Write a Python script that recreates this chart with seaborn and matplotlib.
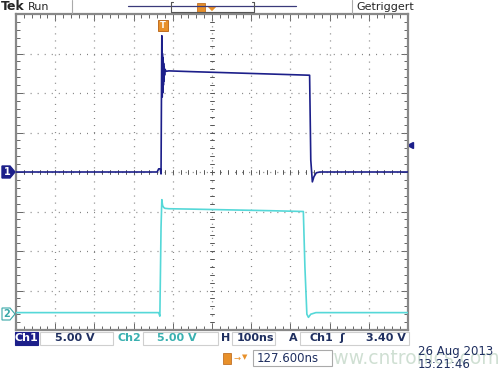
import numpy as np
import pandas as pd
import matplotlib
matplotlib.use("Agg")
import matplotlib.pyplot as plt
import seaborn as sns
from matplotlib.patches import Rectangle, Polygon

# waveforms, read in divisions (x: 0..10, y: -4..4)
ch1_t = [0.0, 3.60, 3.64, 3.68, 3.70, 3.71, 3.72, 3.73, 3.735, 3.74, 3.745, 3.75, 3.755, 3.76, 3.765, 3.77, 3.78, 3.79, 3.80, 3.83, 3.90, 4.5, 5.5, 6.5, 7.49, 7.52, 7.56, 7.60, 7.66, 7.75, 8.5, 10.0]
ch1_v = [0.0, 0.0, 0.08, 0.08, -0.05, 1.8, 3.45, 1.9, 3.0, 2.0, 2.9, 2.1, 2.8, 2.2, 2.75, 2.3, 2.65, 2.45, 2.6, 2.55, 2.56, 2.54, 2.51, 2.48, 2.45, 0.3, -0.25, -0.12, -0.02, 0.0, 0.0, 0.0]
ch2_t = [0.0, 3.64, 3.67, 3.70, 3.72, 3.74, 3.77, 3.80, 3.90, 4.5, 5.5, 6.5, 7.33, 7.37, 7.42, 7.46, 7.52, 7.65, 8.5, 10.0]
ch2_v = [-3.56, -3.56, -3.65, -1.4, -0.7, -0.85, -0.9, -0.92, -0.93, -0.94, -0.96, -0.98, -1.0, -2.4, -3.6, -3.68, -3.6, -3.56, -3.56, -3.56]

ch1_label = ["Ch1", "5.00 V"]
ch2_label = ["Ch2", "5.00 V"]
timebase = "100ns"
trig = ["A", "Ch1", "3.40 V"]
trig_level = 0.68
offset_label = "127.600ns"
date_label = ["26 Aug 2013", "13:21:46"]

NAVY = "#1c1f8a"
CYAN = "#55d8d8"
ORANGE = "#e8902a"
TXT = "#1f2f60"

sns.set_style("white")
plt.rcParams["font.family"] = ["DejaVu Sans"]

fig = plt.figure(figsize=(5, 3.75), dpi=100)
W, H = 500, 375

def fx(x):
    return x / W

def fy(y):
    return 1 - y / H

ax = fig.add_axes([fx(16), fy(330), fx(408) - fx(16), fy(14) - fy(330)])

df = pd.concat([
    pd.DataFrame({"t": ch1_t, "v": ch1_v, "ch": "Ch1"}),
    pd.DataFrame({"t": ch2_t, "v": ch2_v, "ch": "Ch2"}),
])
sns.lineplot(data=df, x="t", y="v", hue="ch", palette={"Ch1": NAVY, "Ch2": CYAN},
             estimator=None, sort=False, linewidth=1.2, legend=False, ax=ax, zorder=5)

ax.set_xlim(0, 10)
ax.set_ylim(-4, 4)
ax.set_xlabel("")
ax.set_ylabel("")

# graticule
for i in range(1, 10):
    ax.axvline(i, color="#808080", lw=0.9, ls=(0, (0.8, 4.84)), zorder=1)
for j in range(-3, 4):
    ax.axhline(j, color="#808080", lw=0.9, ls=(0, (0.8, 4.84)), zorder=1)
for k in np.arange(0.2, 10, 0.2):
    ax.plot([k, k], [-0.06, 0.06], color="#555555", lw=0.7, zorder=2)
for k in np.arange(-3.8, 4, 0.2):
    ax.plot([4.94, 5.06], [k, k], color="#555555", lw=0.7, zorder=2)

ax.set_xticks(range(0, 11))
ax.set_yticks(range(-4, 5))
ax.set_xticks(np.arange(0, 10.01, 0.2), minor=True)
ax.set_yticks(np.arange(-4, 4.01, 0.2), minor=True)
ax.tick_params(which="both", direction="in", top=True, right=True, bottom=True, left=True,
               labelbottom=False, labelleft=False, color="#666666", width=0.7)
ax.tick_params(which="major", length=5)
ax.tick_params(which="minor", length=3)
for s in ax.spines.values():
    s.set_color("#888888")
    s.set_linewidth(1.6)

# markers on the screen
ax.annotate("", xy=(5, 4), xytext=(5, 4.25), annotation_clip=False,
            arrowprops=dict(arrowstyle="wedge,tail_width=0.6", color=ORANGE, lw=0))
fig.patches.append(Rectangle((fx(158), fy(31)), fx(10), fy(20) - fy(31), transform=fig.transFigure,
                             facecolor=ORANGE, edgecolor="#b86010", lw=0.6))
fig.text(fx(163), fy(26), "T", color="white", fontsize=6, fontweight="bold", ha="center", va="center")

# channel ground markers
fig.patches.append(Polygon([(fx(2), fy(166)), (fx(10), fy(166)), (fx(15), fy(172)), (fx(10), fy(178)), (fx(2), fy(178))],
                           closed=True, transform=fig.transFigure, facecolor=NAVY, edgecolor=NAVY))
fig.text(fx(7), fy(172), "1", color="white", fontsize=7, fontweight="bold", ha="center", va="center")
fig.patches.append(Polygon([(fx(2), fy(308)), (fx(10), fy(308)), (fx(15), fy(314)), (fx(10), fy(320)), (fx(2), fy(320))],
                           closed=True, transform=fig.transFigure, facecolor="white", edgecolor="#3aa8a8", lw=0.8))
fig.text(fx(7), fy(314), "2", color="#3aa8a8", fontsize=7, fontweight="bold", ha="center", va="center")
ax.plot([10.05], [trig_level], marker="<", color=NAVY, markersize=4, clip_on=False)

# top status bar
fig.text(fx(1), fy(7), "Tek", fontsize=9, fontweight="bold", ha="left", va="center")
fig.text(fx(28), fy(7), "Run", fontsize=8, ha="left", va="center")
fig.add_artist(plt.Line2D([fx(72), fx(72)], [fy(0), fy(13)], color="#aaaaaa", lw=0.8))
fig.add_artist(plt.Line2D([fx(352), fx(352)], [fy(0), fy(13)], color="#aaaaaa", lw=0.8))
fig.add_artist(plt.Line2D([fx(128), fx(296)], [fy(6), fy(6)], color="#3a3a7a", lw=0.9))
fig.add_artist(plt.Line2D([fx(171), fx(171), fx(254), fx(254)], [fy(2), fy(12), fy(12), fy(2)], color="#555555", lw=0.8))
fig.add_artist(plt.Line2D([fx(171), fx(173)], [fy(2), fy(2)], color="#555555", lw=0.8))
fig.add_artist(plt.Line2D([fx(252), fx(254)], [fy(2), fy(2)], color="#555555", lw=0.8))
fig.patches.append(Rectangle((fx(197), fy(12)), fx(8), fy(3) - fy(12), transform=fig.transFigure,
                             facecolor=ORANGE, edgecolor="#b86010", lw=0.5))
fig.text(fx(356), fy(7), "Getriggert", fontsize=8, ha="left", va="center")

# bottom readouts
def box(x0, x1, y0, y1, fc="white", ec="#cfcfcf"):
    fig.patches.append(Rectangle((fx(x0), fy(y1)), fx(x1) - fx(x0), fy(y0) - fy(y1),
                                 transform=fig.transFigure, facecolor=fc, edgecolor=ec, lw=0.8))

box(15, 38, 332, 345, fc=NAVY, ec=NAVY)
fig.text(fx(26), fy(338), ch1_label[0], color="white", fontsize=8, fontweight="bold", ha="center", va="center")
box(40, 113, 332, 345)
fig.text(fx(55), fy(338), ch1_label[1], color=TXT, fontsize=8, fontweight="bold", ha="left", va="center")
fig.text(fx(117), fy(338), ch2_label[0], color="#3ab0b0", fontsize=8, fontweight="bold", ha="left", va="center")
box(143, 218, 332, 345)
fig.text(fx(157), fy(338), ch2_label[1], color="#3ab0b0", fontsize=8, fontweight="bold", ha="left", va="center")
fig.text(fx(221), fy(338), "H", color=TXT, fontsize=8, fontweight="bold", ha="left", va="center")
box(232, 275, 332, 345)
fig.text(fx(237), fy(338), timebase, color=TXT, fontsize=8, fontweight="bold", ha="left", va="center")
fig.text(fx(289), fy(338), trig[0], color=TXT, fontsize=8, fontweight="bold", ha="left", va="center")
box(300, 409, 332, 345)
fig.text(fx(310), fy(338), trig[1], color=TXT, fontsize=8, fontweight="bold", ha="left", va="center")
fig.text(fx(339), fy(338), "ʃ", color=TXT, fontsize=8, fontweight="bold", ha="left", va="center")
fig.text(fx(406), fy(338), trig[2], color=TXT, fontsize=8, fontweight="bold", ha="right", va="center")

# watermark sits behind the timestamp, as in the screenshot
fig.text(fx(318), fy(358), "www.cntronics.com", color="#c4d8c8", fontsize=13.5, ha="left", va="center",
         alpha=0.8, zorder=0)
fig.patches.append(Rectangle((fx(223), fy(364)), fx(8), fy(353) - fy(364), transform=fig.transFigure,
                             facecolor=ORANGE, edgecolor="#b86010", lw=0.5))
fig.text(fx(233), fy(358), "→", color=ORANGE, fontsize=6, ha="left", va="center")
fig.text(fx(242), fy(357), "▼", color=ORANGE, fontsize=5, ha="left", va="center")
box(253, 332, 350, 366, ec="#aaaaaa")
fig.text(fx(257), fy(358), offset_label, color=TXT, fontsize=8.5, ha="left", va="center")
fig.text(fx(418), fy(351), date_label[0], color=TXT, fontsize=8.5, ha="left", va="center")
fig.text(fx(418), fy(365), date_label[1], color=TXT, fontsize=8.5, ha="left", va="center")

fig.savefig("out.png", dpi=100, facecolor="white")
